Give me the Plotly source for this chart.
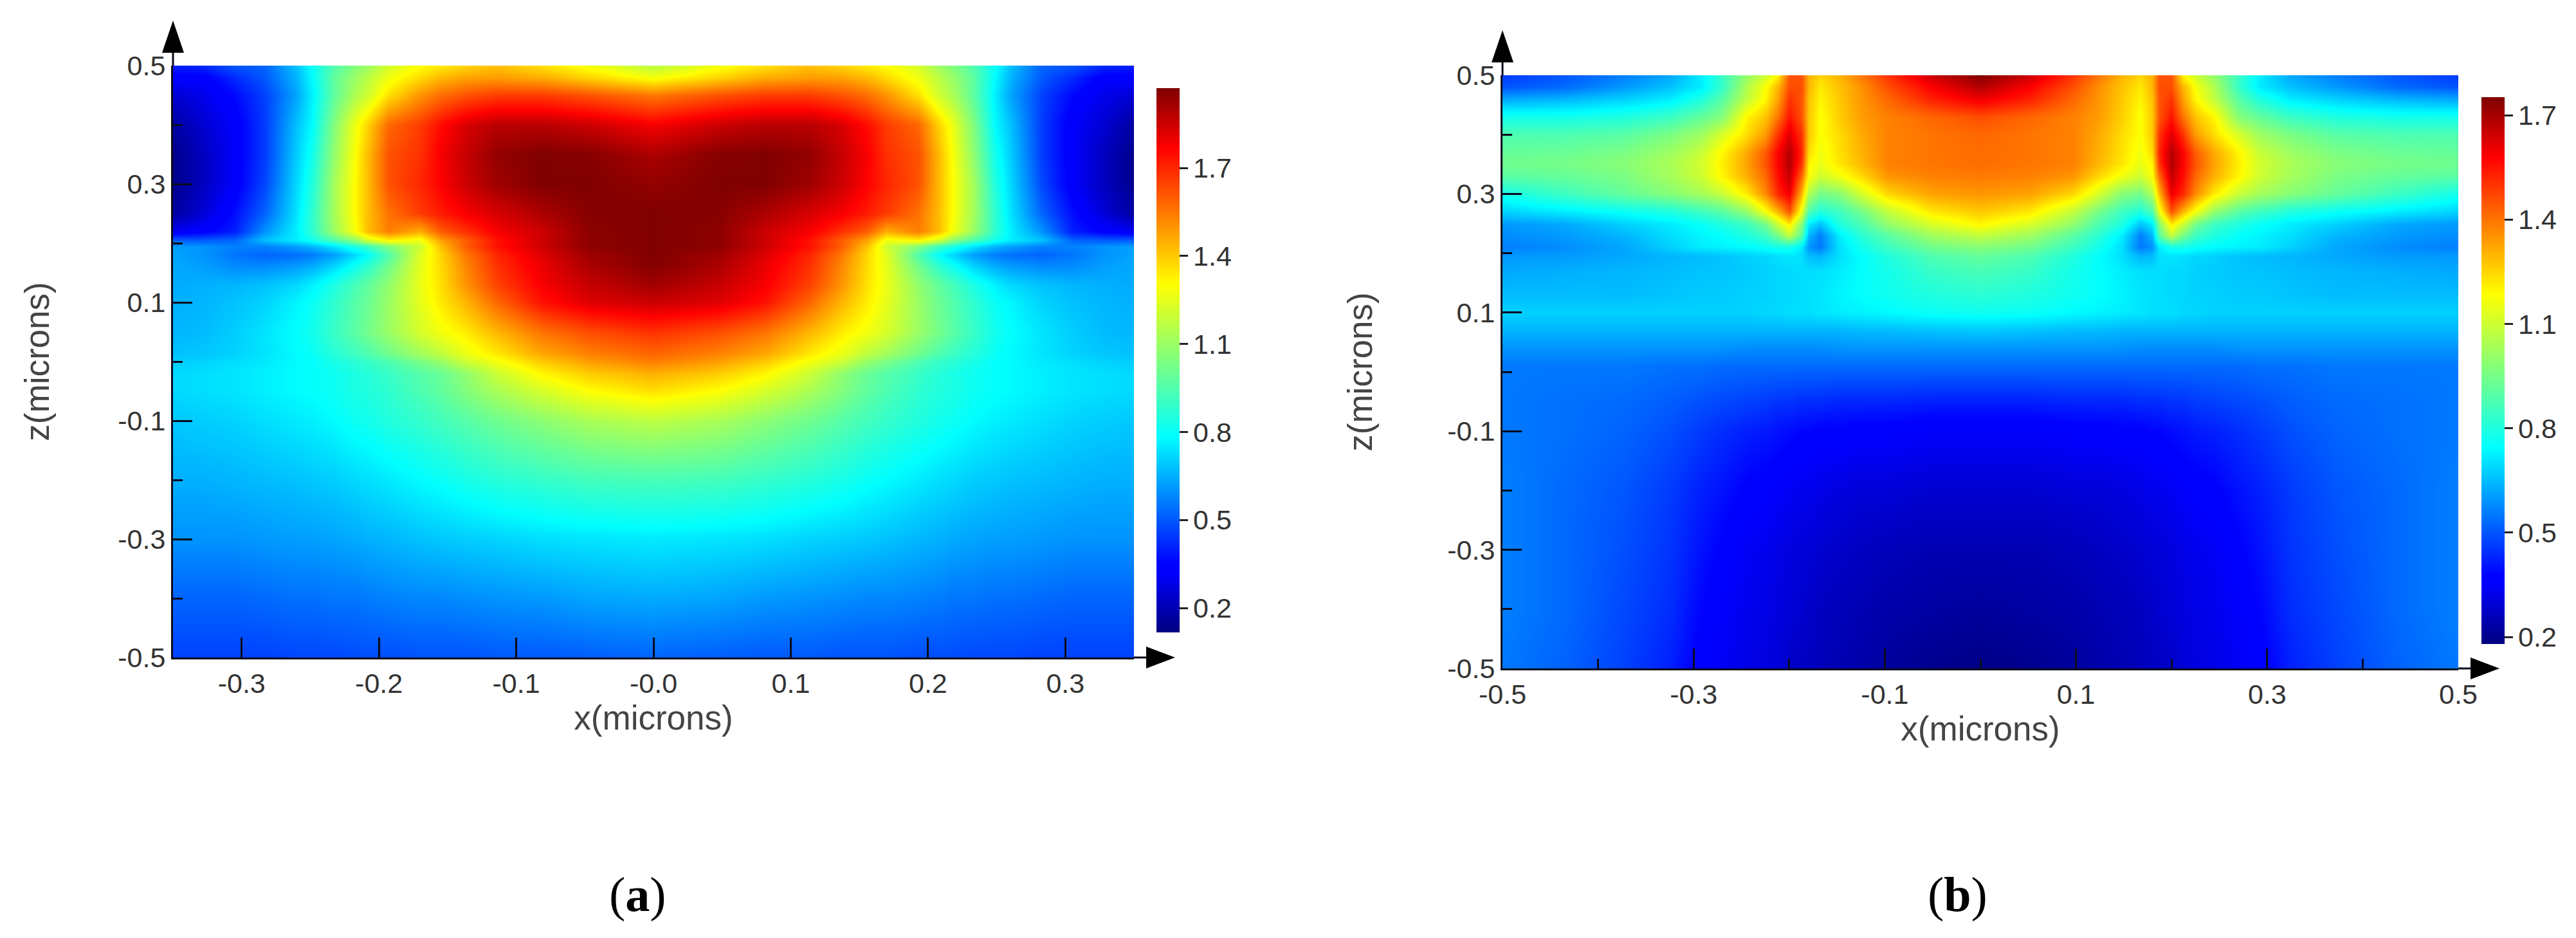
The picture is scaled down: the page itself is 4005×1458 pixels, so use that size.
import plotly.graph_objects as go

W, H = 4005, 1458

# ---------- panel (a) data ----------
a_x_half = [-.35, -.3275, -.305, -.283, -.26, -.249, -.233, -.2175, -.2085, -.193, -.17, -.155, -.137, -.114, -.081, -.047, 0.0]
a_y = [.5, .48, .45, .40, .35, .30, .25, .22, .205, .195, .18, .16, .13, .10, .05, .012, .0, -.02, -.05, -.1, -.2, -.3, -.4, -.5]
a_rows = [
    [.40, .42, .50, .52, .68, .80, .95, 1.05, 1.10, 1.22, 1.30, 1.34, 1.38, 1.42, 1.36, 1.28, 1.16],
    [.33, .33, .42, .50, .66, .78, .98, 1.10, 1.16, 1.27, 1.37, 1.43, 1.47, 1.48, 1.45, 1.38, 1.28],
    [.25, .29, .36, .46, .63, .76, .98, 1.14, 1.20, 1.36, 1.50, 1.57, 1.62, 1.66, 1.66, 1.62, 1.55],
    [.17, .25, .32, .45, .68, .78, 1.05, 1.27, 1.38, 1.58, 1.66, 1.75, 1.83, 1.88, 1.88, 1.85, 1.78],
    [.14, .22, .32, .45, .70, .82, 1.08, 1.30, 1.42, 1.62, 1.68, 1.78, 1.86, 1.94, 1.97, 1.96, 1.90],
    [.14, .22, .32, .47, .72, .85, 1.12, 1.31, 1.42, 1.62, 1.70, 1.77, 1.85, 1.92, 1.97, 1.97, 1.94],
    [.17, .26, .37, .52, .74, .88, 1.12, 1.31, 1.42, 1.56, 1.66, 1.72, 1.78, 1.83, 1.90, 1.96, 1.97],
    [.30, .34, .40, .60, .76, .88, 1.10, 1.29, 1.42, 1.54, 1.45, 1.60, 1.68, 1.78, 1.85, 1.95, 1.97],
    [.50, .50, .52, .68, .76, .82, .95, 1.08, 1.22, 1.33, 1.28, 1.48, 1.60, 1.74, 1.85, 1.95, 1.97],
    [.62, .60, .57, .57, .62, .66, .74, .84, .90, 1.05, 1.20, 1.42, 1.60, 1.74, 1.85, 1.95, 1.97],
    [.63, .60, .55, .52, .54, .56, .62, .72, .78, .95, 1.24, 1.38, 1.55, 1.70, 1.82, 1.92, 1.97],
    [.64, .62, .59, .59, .62, .65, .72, .82, .88, 1.02, 1.25, 1.37, 1.52, 1.68, 1.80, 1.90, 1.96],
    [.64, .65, .66, .68, .72, .76, .84, .93, .98, 1.08, 1.26, 1.36, 1.50, 1.65, 1.78, 1.86, 1.92],
    [.65, .66, .68, .71, .77, .80, .88, .96, 1.00, 1.10, 1.25, 1.34, 1.44, 1.58, 1.74, 1.82, 1.85],
    [.66, .67, .70, .74, .79, .82, .90, .97, 1.02, 1.10, 1.22, 1.28, 1.34, 1.44, 1.56, 1.63, 1.68],
    [.68, .69, .71, .74, .78, .80, .86, .91, .94, 1.01, 1.11, 1.17, 1.26, 1.34, 1.46, 1.53, 1.58],
    [.70, .71, .73, .75, .78, .79, .83, .87, .89, .94, 1.03, 1.09, 1.20, 1.28, 1.40, 1.48, 1.54],
    [.72, .73, .74, .76, .78, .79, .81, .84, .86, .90, .96, 1.00, 1.08, 1.20, 1.32, 1.40, 1.45],
    [.72, .73, .74, .76, .78, .79, .81, .84, .85, .88, .94, .98, 1.05, 1.13, 1.22, 1.30, 1.36],
    [.69, .70, .71, .73, .75, .76, .78, .81, .82, .85, .89, .92, .96, 1.01, 1.07, 1.13, 1.17],
    [.65, .65, .66, .67, .68, .69, .70, .72, .73, .75, .78, .80, .83, .86, .89, .92, .93],
    [.60, .60, .60, .61, .62, .62, .63, .64, .65, .66, .68, .69, .70, .71, .73, .74, .75],
    [.52, .52, .52, .53, .54, .54, .55, .55, .56, .57, .58, .58, .59, .60, .61, .63, .64],
    [.46, .46, .46, .46, .47, .47, .47, .48, .48, .48, .49, .49, .49, .50, .50, .51, .52],
]
a_zmin, a_zmax = 0.117, 1.972

# ---------- panel (b) data ----------
b_x_half = [-.5, -.436, -.372, -.324, -.292, -.27, -.244, -.225, -.212, -.2, -.187, -.18, -.1675, -.148, -.123, -.097, -.052, 0.0]
b_y = [.5, .48, .46, .43, .40, .37, .35, .33, .30, .27, .25, .23, .21, .195, .17, .13, .10, .07, .04, .01, -.05, -.1, -.2, -.3, -.4, -.5]
b_rows = [
    [.46, .50, .56, .62, .72, .85, 1.00, 1.10, 1.20, 1.45, 1.45, 1.30, 1.25, 1.30, 1.40, 1.50, 1.65, 1.75],
    [.50, .53, .60, .66, .72, .84, 1.05, 1.18, 1.30, 1.46, 1.46, 1.30, 1.22, 1.28, 1.36, 1.46, 1.58, 1.68],
    [.62, .64, .68, .72, .80, .90, 1.08, 1.20, 1.33, 1.50, 1.45, 1.28, 1.20, 1.27, 1.35, 1.42, 1.53, 1.60],
    [.78, .78, .80, .85, .92, .98, 1.20, 1.28, 1.40, 1.55, 1.45, 1.27, 1.18, 1.26, 1.34, 1.38, 1.42, 1.46],
    [.88, .88, .90, .96, 1.02, 1.12, 1.24, 1.34, 1.50, 1.62, 1.50, 1.27, 1.18, 1.24, 1.32, 1.38, 1.40, 1.42],
    [.92, .93, .96, 1.02, 1.09, 1.20, 1.32, 1.44, 1.58, 1.68, 1.52, 1.24, 1.16, 1.23, 1.31, 1.38, 1.40, 1.41],
    [.94, .95, .98, 1.04, 1.11, 1.21, 1.33, 1.45, 1.58, 1.68, 1.50, 1.20, 1.15, 1.22, 1.30, 1.38, 1.40, 1.41],
    [.90, .92, .96, 1.03, 1.10, 1.20, 1.31, 1.42, 1.56, 1.66, 1.42, 1.18, 1.10, 1.16, 1.25, 1.35, 1.38, 1.39],
    [.78, .85, .92, .98, 1.03, 1.09, 1.22, 1.37, 1.52, 1.60, 1.30, 1.05, .95, .98, 1.12, 1.25, 1.33, 1.35],
    [.68, .72, .76, .80, .85, .90, 1.00, 1.17, 1.30, 1.45, 1.15, .88, .80, .85, .95, 1.08, 1.22, 1.27],
    [.60, .62, .68, .72, .76, .80, .85, .95, 1.10, 1.22, .98, .72, .66, .80, .88, 1.00, 1.12, 1.20],
    [.58, .60, .64, .70, .73, .75, .80, .85, .95, 1.08, .90, .64, .56, .72, .82, .90, 1.02, 1.08],
    [.56, .58, .62, .68, .72, .73, .74, .76, .78, .78, .72, .59, .55, .70, .78, .85, .94, .98],
    [.60, .60, .62, .64, .65, .66, .68, .69, .70, .71, .70, .65, .64, .70, .75, .80, .88, .92],
    [.62, .63, .64, .65, .66, .66, .67, .68, .69, .69, .70, .70, .70, .72, .75, .78, .84, .87],
    [.65, .65, .65, .66, .67, .67, .68, .68, .69, .69, .70, .70, .71, .73, .75, .77, .80, .82],
    [.68, .68, .68, .68, .68, .68, .68, .69, .69, .70, .70, .70, .71, .72, .73, .74, .76, .77],
    [.64, .64, .64, .64, .64, .64, .64, .64, .64, .64, .64, .64, .64, .64, .65, .65, .66, .67],
    [.59, .59, .59, .59, .59, .59, .58, .58, .58, .58, .58, .58, .58, .59, .59, .59, .59, .59],
    [.55, .55, .55, .54, .54, .53, .53, .53, .53, .53, .53, .53, .53, .53, .53, .53, .53, .53],
    [.55, .54, .53, .51, .49, .48, .47, .46, .45, .45, .44, .44, .44, .43, .43, .43, .42, .42],
    [.55, .54, .52, .49, .46, .44, .42, .41, .40, .39, .38, .38, .37, .37, .36, .36, .35, .35],
    [.56, .53, .50, .46, .42, .40, .37, .36, .35, .34, .33, .33, .32, .31, .30, .30, .29, .29],
    [.56, .53, .49, .45, .40, .37, .34, .33, .32, .31, .30, .30, .29, .28, .27, .26, .25, .25],
    [.56, .53, .48, .44, .38, .35, .33, .32, .31, .30, .29, .28, .27, .26, .25, .24, .23, .22],
    [.55, .52, .47, .42, .36, .34, .32, .31, .30, .28, .27, .27, .26, .25, .24, .22, .20, .19],
]
b_zmin, b_zmax = 0.18, 1.752

# ---------- tick labels ----------
a_xticks = [-.3, -.2, -.1, 0, .1, .2, .3]
a_xlabels = ["-0.3", "-0.2", "-0.1", "-0.0", "0.1", "0.2", "0.3"]
b_xticks = [-.5, -.3, -.1, .1, .3, .5]
b_xlabels = ["-0.5", "-0.3", "-0.1", "0.1", "0.3", "0.5"]
b_xminor = [-.4, -.2, 0, .2, .4]
yticks = [-.5, -.3, -.1, .1, .3, .5]
ylabels = ["-0.5", "-0.3", "-0.1", "0.1", "0.3", "0.5"]
yminor = [-.4, -.2, 0, .2, .4]
cbticks = [.2, .5, .8, 1.1, 1.4, 1.7]
cblabels = ["0.2", "0.5", "0.8", "1.1", "1.4", "1.7"]

JET = [[0, "#00007F"], [.11, "#0000FF"], [.125, "#0000FF"], [.36, "#00FFFF"], [.5, "#7FFF7F"],
       [.64, "#FFFF00"], [.89, "#FF0000"], [1, "#7F0000"]]

FONT = "Liberation Sans, Arial, sans-serif"
TICKFONT = dict(family=FONT, size=43, color="#333333")
TITLEFONT = dict(family=FONT, size=53, color="#444444")
INK = "#0b0b1e"


def px(x):
    return x / W


def py(y):
    return 1 - y / H


def mirror_x(half):
    return half + [-v for v in half[-2::-1]]


def mirror_z(rows):
    return [r + r[-2::-1] for r in rows][::-1]


fig = go.Figure()


def cbar(x, top, bottom):
    return dict(
        x=px(x), xanchor="left", xref="paper", y=py(top), yanchor="top", yref="paper",
        len=bottom - top, lenmode="pixels", thickness=36, thicknessmode="pixels",
        xpad=0, ypad=0, outlinewidth=0, ticks="outside", ticklen=13, tickwidth=3,
        tickcolor="#222222", tickmode="array", tickvals=cbticks, ticktext=cblabels,
        tickfont=TICKFONT,
    )


fig.add_trace(go.Heatmap(x=mirror_x(a_x_half), y=a_y[::-1], z=mirror_z(a_rows), zmin=a_zmin, zmax=a_zmax,
                         colorscale=JET, zsmooth="best", xaxis="x", yaxis="y",
                         colorbar=cbar(1798, 137, 983)))
fig.add_trace(go.Heatmap(x=mirror_x(b_x_half), y=b_y[::-1], z=mirror_z(b_rows), zmin=b_zmin, zmax=b_zmax,
                         colorscale=JET, zsmooth="best", xaxis="x2", yaxis="y2",
                         colorbar=cbar(3858, 151, 1001)))


def xaxis(dom, rng, vals, labels, anchor, standoff, minor=None):
    d = dict(domain=[px(dom[0]), px(dom[1])], range=rng, anchor=anchor, showgrid=False, zeroline=False,
             showline=True, linecolor=INK, linewidth=3, ticks="inside", ticklen=31, tickwidth=3,
             tickcolor=INK, tickmode="array", tickvals=vals, ticktext=labels, tickfont=TICKFONT,
             ticklabelstandoff=0, automargin=False,
             title=dict(text="x(microns)", font=TITLEFONT, standoff=standoff))
    if minor:
        d["minor"] = dict(ticks="inside", ticklen=15, tickwidth=3, tickcolor=INK, tickmode="array", tickvals=minor,
                          showgrid=False)
    return d


def yaxis(dom, anchor, standoff):
    return dict(domain=[py(dom[1]), py(dom[0])], range=[-.5, .5], anchor=anchor, showgrid=False, zeroline=False,
                showline=True, linecolor=INK, linewidth=3, ticks="inside", ticklen=30, tickwidth=3,
                tickcolor=INK, tickmode="array", tickvals=yticks, ticktext=ylabels, tickfont=TICKFONT,
                automargin=False,
                minor=dict(ticks="inside", ticklen=15, tickwidth=3, tickcolor=INK, tickmode="array", tickvals=yminor,
                           showgrid=False),
                title=dict(text="z(microns)", font=TITLEFONT, standoff=standoff))


shapes = []


def seg(x0, y0, x1, y1, color=INK, w=3):
    shapes.append(dict(type="line", xref="paper", yref="paper", x0=px(x0), y0=py(y0), x1=px(x1), y1=py(y1),
                       line=dict(color=color, width=w), layer="above"))


def tri(p):
    path = "M" + " L".join(f"{px(a):.6f},{py(b):.6f}" for a, b in p) + " Z"
    shapes.append(dict(type="path", xref="paper", yref="paper", path=path, fillcolor="#000000",
                       line=dict(width=0), layer="above"))


def arrows(l, t, r, b):
    seg(l, t, l, t - 25)
    seg(r, b, r + 25, b)
    tri([(l, t - 70), (l - 17, t - 20), (l + 17, t - 20)])
    tri([(r + 64, b), (r + 19, b - 17), (r + 19, b + 17)])


def cb_cross(x0, x1, top, bottom, zmin, zmax):
    for v in cbticks:
        y = top + (zmax - v) / (zmax - zmin) * (bottom - top)
        seg(x0, y, x1, y, "#222222", 3)


arrows(269, 102, 1763, 1022)
arrows(2336, 117, 3822, 1039)
cb_cross(1798, 1835, 137, 983, a_zmin, a_zmax)
cb_cross(3858, 3894, 151, 1001, b_zmin, b_zmax)

CAPTION = dict(family="Liberation Serif, serif", size=76, color="#000000")
annotations = [
    dict(text="(<b>a</b>)", x=px(991), y=py(1390), xref="paper", yref="paper", showarrow=False, font=CAPTION,
         xanchor="center", yanchor="middle"),
    dict(text="(<b>b</b>)", x=px(3043), y=py(1390), xref="paper", yref="paper", showarrow=False, font=CAPTION,
         xanchor="center", yanchor="middle"),
]

fig.update_layout(
    width=W, height=H, autosize=False, margin=dict(l=0, r=0, t=0, b=0, pad=0),
    paper_bgcolor="white", plot_bgcolor="white", showlegend=False,
    xaxis=xaxis((269, 1763), [-.35, .35], a_xticks, a_xlabels, "y", 1),
    yaxis=yaxis((102, 1022), "x", 90),
    xaxis2=xaxis((2336, 3822), [-.5, .5], b_xticks, b_xlabels, "y2", 6, b_xminor),
    yaxis2=yaxis((117, 1039), "x2", 100),
    shapes=shapes, annotations=annotations,
)

fig.write_html("out.html", post_script="document.body.style.margin='0';",
               config=dict(displayModeBar=False))
